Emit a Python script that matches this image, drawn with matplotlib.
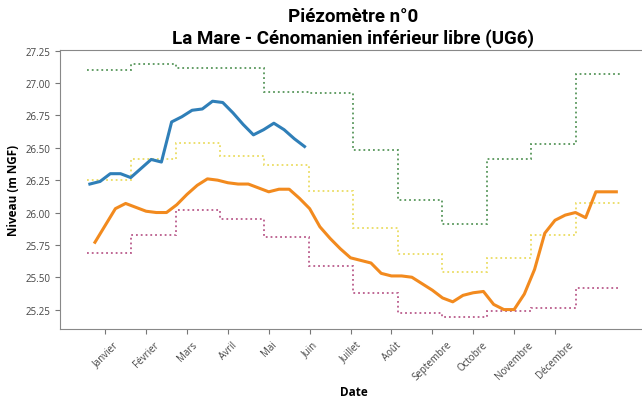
import numpy as np
import matplotlib
matplotlib.use("Agg")
import matplotlib.pyplot as plt

# niveaux hebdomadaires (m NGF)
niveau_annee = [26.22, 26.24, 26.30, 26.30, 26.27, 26.34, 26.41, 26.39, 26.70, 26.74,
                26.79, 26.80, 26.86, 26.85, 26.77, 26.68, 26.60, 26.64, 26.69, 26.64,
                26.57, 26.51]

niveau_median = [25.77, 25.90, 26.03, 26.07, 26.04, 26.01, 26.00, 26.00, 26.06, 26.14,
                 26.21, 26.26, 26.25, 26.23, 26.22, 26.22, 26.19, 26.16, 26.18, 26.18,
                 26.11, 26.03, 25.89, 25.80, 25.72, 25.65, 25.63, 25.61, 25.53, 25.51,
                 25.51, 25.50, 25.45, 25.40, 25.34, 25.31, 25.36, 25.38, 25.39, 25.29,
                 25.25, 25.25, 25.37, 25.56, 25.84, 25.94, 25.98, 26.00, 25.96, 26.16,
                 26.16, 26.16]

# statistiques mensuelles
niveau_max = [27.10, 27.15, 27.12, 27.12, 26.93, 26.92, 26.48, 26.10, 25.91, 26.41, 26.53, 27.07]
niveau_haut = [26.25, 26.41, 26.54, 26.44, 26.37, 26.17, 25.88, 25.68, 25.54, 25.65, 25.83, 26.07]
niveau_min = [25.69, 25.83, 26.02, 25.95, 25.81, 25.59, 25.38, 25.22, 25.19, 25.24, 25.26, 25.42]

mois = ["Janvier", "Février", "Mars", "Avril", "Mai", "Juin", "Juillet", "Août",
        "Septembre", "Octobre", "Novembre", "Décembre"]


def main():
    fig = plt.figure(figsize=(6.42, 4.02), dpi=100)
    ax = fig.add_axes([60 / 642, 72 / 402, 587 / 642, 279.3 / 402])

    # bornes des mois en semaines
    bords = np.linspace(-0.81, 51.37, len(mois) + 1)
    ax.stairs(niveau_max, bords, baseline=None, color="#2e7d32", linestyle=":", linewidth=1.3, alpha=0.8)
    ax.stairs(niveau_haut, bords, baseline=None, color="#e6d43c", linestyle=":", linewidth=1.3, alpha=0.8)
    ax.stairs(niveau_min, bords, baseline=None, color="#a8326e", linestyle=":", linewidth=1.3, alpha=0.8)

    x_med = np.arange(len(niveau_median))
    ax.plot(x_med, niveau_median, color="#f28a1e", linewidth=2.2)
    x_an = np.arange(len(niveau_annee)) - 0.5
    ax.plot(x_an, niveau_annee, color="#2f7fb8", linewidth=2.2)

    ax.set_xlim(-3.42, 54.0)
    ax.set_ylim(25.10, 27.258)
    ax.set_yticks(np.arange(25.25, 27.26, 0.25))
    ax.set_yticklabels([f"{v:.2f}" for v in np.arange(25.25, 27.26, 0.25)],
                       fontsize=7, color="#444444", family="Open Sans")
    ax.set_xticks(np.arange(1, 48, 4))
    ax.set_xticklabels(mois, rotation=45, fontsize=7, color="#444444", family="Open Sans")
    ax.tick_params(color="#777777", length=3.5)

    for side in ["top", "left", "bottom"]:
        ax.spines[side].set_color("#888888")
    ax.spines["right"].set_visible(False)

    ax.set_xlabel("Date", fontsize=8.5, fontweight="bold", family="Open Sans", labelpad=2)
    ax.set_ylabel("Niveau (m NGF)", fontsize=8.5, fontweight="bold", family="Open Sans")
    ax.set_title("Piézomètre n°0\nLa Mare - Cénomanien inférieur libre (UG6)",
                 fontsize=13.5, fontweight="bold", family="Roboto", pad=5)

    fig.savefig("out.png", dpi=100)


if __name__ == "__main__":
    main()
